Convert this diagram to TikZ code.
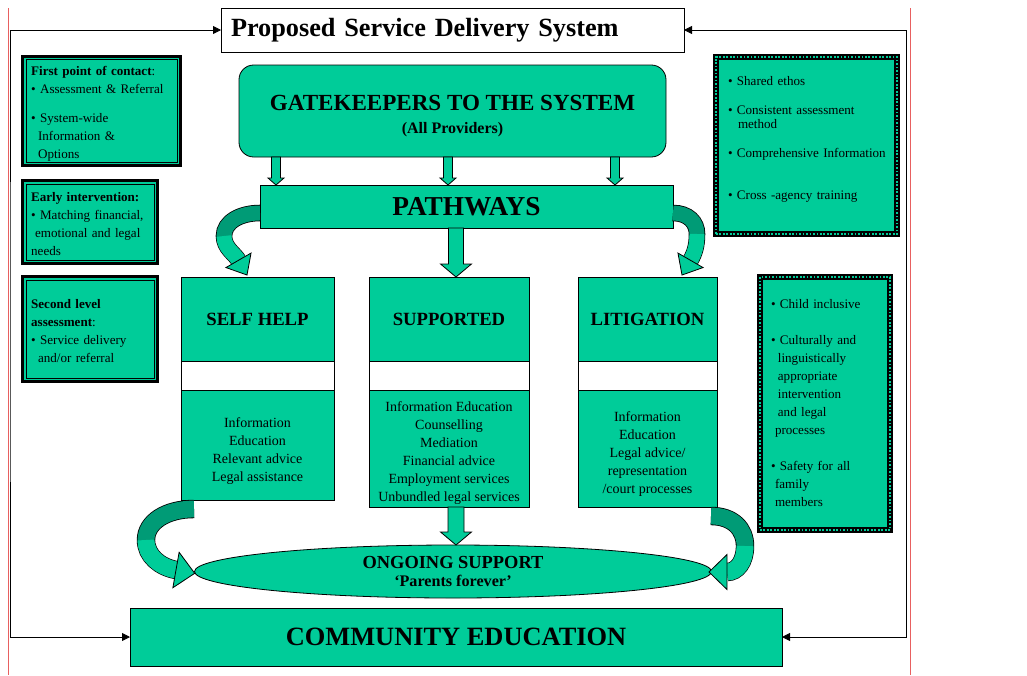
\documentclass[tikz,border=0pt]{standalone}
\usepackage{fontspec}
\setmainfont{Liberation Serif}
\usetikzlibrary{shapes.geometric,arrows.meta,calc}
\definecolor{boxgreen}{RGB}{0,204,153}
\definecolor{backgreen}{RGB}{0,155,118}
\definecolor{pagered}{RGB}{232,96,96}

% straight block arrow pointing down
\newcommand{\blkdown}[5]{%
  \draw[blockarrow] let \p1=(#1), \p2=(#2) in
    (\x1-#3,\y1) -- (\x1+#3,\y1) -- (\x1+#3,\y2+#5) -- (\x1+#4,\y2+#5)
    -- (\x1,\y2) -- (\x1-#4,\y2+#5) -- (\x1-#3,\y2+#5) -- cycle;}
% head of a curved block arrow
\newcommand{\curvehead}[4]{%
  \draw[blockarrow] ($(#1)+(#2+90:#3)$) -- ($(#1)+(#2:#4)$)
    -- ($(#1)+(#2-90:#3)$) -- cycle;}

\begin{document}
\begin{tikzpicture}[x=0.75pt, y=-0.75pt,
          every node/.style={outer sep=0pt},
          greenbox/.style={draw, fill=boxgreen, line width=0.6pt, align=center},
          titlebox/.style={draw, fill=white, line width=0.6pt, minimum height=33pt, text width=332.25pt, inner xsep=7.5pt, align=left, font=\fontsize{19.7}{24}\selectfont\bfseries},
          sidebox/.style={greenbox, line width=2.25pt, align=left, inner xsep=6.5pt, font=\fontsize{9.8}{13.5}\selectfont},
          dotbox/.style={greenbox, line width=4.5pt, postaction={draw=boxgreen, line width=1.4pt, dash pattern=on 1.3pt off 1.3pt}, align=left, font=\fontsize{9.8}{13.5}\selectfont},
          headbox/.style={greenbox, minimum height=63pt, font=\fontsize{14}{17}\selectfont\bfseries},
          listbox/.style={greenbox, font=\fontsize{10.5}{13.5}\selectfont},
          blockarrow/.style={draw=black, fill=boxgreen, line width=0.6pt, line join=miter},
          feedback/.style={draw=black, line width=0.6pt, {Triangle[length=6pt,width=6pt]}-{Triangle[length=6pt,width=6pt]}},
          toparc/.style={draw=backgreen, line width=11.2pt, preaction={draw=black, line width=12.4pt}},
          topface/.style={draw=boxgreen, line width=11.2pt},
          lowarc/.style={draw=backgreen, line width=12.6pt, preaction={draw=black, line width=13.8pt}},
          lowface/.style={draw=boxgreen, line width=12.6pt}]
  \useasboundingbox (0,0) rectangle (1027,675);
  \draw[pagered, line width=0.6pt] (8,8) -- (8,675);
  \draw[pagered, line width=0.6pt] (910,8) -- (910,675);

  % main column
  \node[titlebox] (title) at (452.5,30) {Proposed Service Delivery System};
  \node[greenbox, rounded corners=11pt, minimum width=320.25pt, minimum height=69pt, font=\bfseries] (gate) at (452.5,111)
    {\rule{0pt}{19pt}{\fontsize{17.3}{20}\selectfont GATEKEEPERS TO THE SYSTEM}\\[5.25pt] {\fontsize{12}{14}\selectfont (All Providers)}};
  \node[greenbox, minimum width=309.75pt, minimum height=32.25pt, font=\fontsize{20.5}{24}\selectfont\bfseries] (pathways) at (466.5,206.5) {PATHWAYS};

  \node[headbox, minimum width=114.75pt] (hself) at (257.5,319) {SELF HELP};
  \node[headbox, minimum width=120pt] (hsup) at (449,319) {SUPPORTED};
  \node[headbox, minimum width=104.25pt] (hlit) at (647.5,319) {LITIGATION};
  \node[listbox, minimum width=114.75pt, minimum height=82.5pt] (lself) at (257.5,445)
    {\rule{0pt}{16pt}Information\\ Education\\ Relevant advice\\ Legal assistance};
  \node[listbox, minimum width=120pt, minimum height=87.75pt, inner ysep=0pt] (lsup) at (449,448.5)
    {\rule{0pt}{15pt}Information Education\\ Counselling\\ Mediation\\ Financial advice\\ Employment services\\ Unbundled legal services};
  \node[listbox, minimum width=104.25pt, minimum height=87.75pt] (llit) at (647.5,448.5)
    {\rule{0pt}{16pt}Information\\ Education\\ Legal advice/\\ representation\\ /court processes};
  \foreach \p in {self, sup, lit}
    \draw[line width=0.6pt] (h\p.north west) rectangle (l\p.south east);

  \node[greenbox, ellipse, minimum width=387.75pt, minimum height=39.75pt, inner sep=0pt, font=\bfseries] (ongoing) at (453,571.5)
    {{\fontsize{13.8}{16}\selectfont ONGOING SUPPORT}\\[1.5pt] {\fontsize{12.1}{14}\selectfont ‘Parents forever’}};
  \node[greenbox, minimum width=489pt, minimum height=43.5pt, font=\fontsize{19.8}{24}\selectfont\bfseries] (community) at (456,637) {COMMUNITY EDUCATION};

  % side notes
  \node[sidebox, text width=105.5pt, minimum height=78.75pt] (contact) at (101.5,111)
    {\rule{0pt}{11pt}\textbf{First point of contact}:\\ • Assessment \& Referral\\[8.25pt] • System-wide\\ \hspace*{5.2pt}Information \&\\ \hspace*{5.2pt}Options};
  \node[sidebox, text width=88.25pt, minimum height=62.25pt] (early) at (90,222)
    {\rule{0pt}{10pt}\textbf{Early intervention:}\\ \mbox{• Matching financial,}\\ \hspace*{3pt}emotional and legal\\ needs};
  \node[sidebox, text width=88.25pt, minimum height=78.75pt] (second) at (90,329)
    {\rule{0pt}{10pt}\textbf{Second level}\\ \textbf{assessment}:\\ • Service delivery\\ \hspace*{5.2pt}and/or referral};
  \foreach \b in {contact, early, second}
    \draw[line width=0.6pt] ([shift={(3.5,3.5)}]\b.north west) rectangle ([shift={(-3.5,-3.5)}]\b.south east);

  \node[dotbox, text width=117.75pt, inner xsep=9pt, minimum height=132.75pt] (ethos) at (806.5,145.5)
    {• Shared ethos\\[8.25pt] • Consistent assessment\\[-3pt] \hspace*{7.5pt}method\\[8.25pt] \mbox{• Comprehensive Information}\\[18pt] • Cross -agency training\rule[-11pt]{0pt}{0pt}};
  \node[dotbox, text width=81pt, inner xsep=8.25pt, minimum height=189.75pt] (inclusive) at (825,403.5)
    {• Child inclusive\\[13.5pt] • Culturally and\\ \hspace*{5.2pt}linguistically\\ \hspace*{5.2pt}appropriate\\ \hspace*{5.2pt}intervention\\ \hspace*{5.2pt}and legal\\ \hspace*{3pt}processes\\[13.5pt] • Safety for all\\ \hspace*{3pt}family\\ \hspace*{3pt}members};

  % feedback lines
  \coordinate (lrail) at (10,330);
  \coordinate (rrail) at (906,330);
  \draw[feedback] (title.west) -| (lrail) |- (community.west);
  \draw[feedback] (title.east) -| (rrail) |- (community.east);

  % straight block arrows
  \coordinate (ga1) at (276,0);
  \coordinate (ga2) at (448,0);
  \coordinate (ga3) at (615,0);
  \coordinate (mid) at (456,0);
  \foreach \g in {ga1, ga2, ga3}
    \blkdown{gate.south -| \g}{pathways.north -| \g}{3.4pt}{6pt}{5.25pt};
  \blkdown{pathways.south -| mid}{hsup.north -| mid}{5.6pt}{11.6pt}{9.75pt};
  \blkdown{lsup.south -| mid}{ongoing.north -| mid}{6pt}{11.6pt}{9.75pt};

  % curved block arrows
  \coordinate (tlstart) at (260,213);
  \coordinate (tlend) at (238.5,260.3);
  \draw[toparc] (tlstart) .. controls (240,213) and (224,222) .. (224,236)
    .. controls (224,248) and (234.5,253.4) .. (tlend);
  \draw[topface] (224,236) .. controls (224,248) and (234.5,253.4) .. (tlend);
  \curvehead{tlend}{60}{14.5}{17};

  \coordinate (trstart) at (673,213);
  \coordinate (trend) at (690.5,260.3);
  \draw[toparc] (trstart) .. controls (688,213) and (697,222) .. (697,234)
    .. controls (697,246) and (694.5,253.4) .. (trend);
  \draw[topface] (697,234) .. controls (697,246) and (694.5,253.4) .. (trend);
  \curvehead{trend}{120}{14.5}{17};

  \coordinate (blstart) at (194,509);
  \coordinate (blend) at (176,570);
  \draw[lowarc] (blstart) .. controls (166,509) and (146,522) .. (146,540)
    .. controls (146,556) and (160,567) .. (blend);
  \draw[lowface] (146,540) .. controls (146,556) and (160,567) .. (blend);
  \curvehead{blend}{10}{18}{19};

  \coordinate (brstart) at (711,516);
  \coordinate (brend) at (727,572);
  \draw[lowarc] (brstart) .. controls (733,516) and (745,529) .. (745,546)
    .. controls (745,562) and (737,572) .. (brend);
  \draw[lowface] (745,546) .. controls (745,562) and (737,572) .. (brend);
  \curvehead{brend}{180}{17.5}{18};
\end{tikzpicture}
\end{document}
